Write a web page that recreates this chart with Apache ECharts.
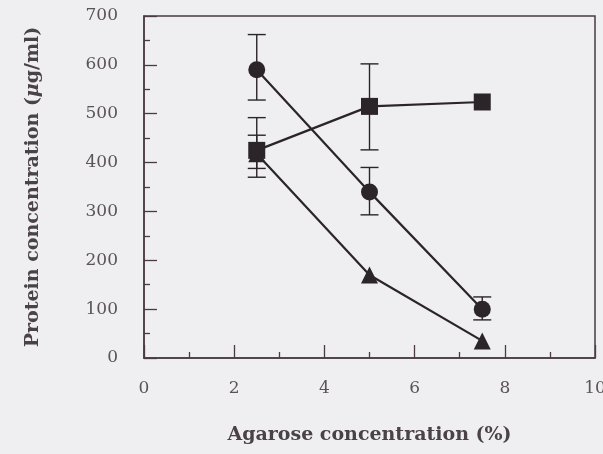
<!DOCTYPE html>
<html>
<head>
<meta charset="utf-8">
<script src="https://cdn.jsdelivr.net/npm/echarts@6/dist/echarts.min.js"></script>
<style>
html,body{margin:0;padding:0;background:#efeff1;}
#c{width:603px;height:454px;}
</style>
</head>
<body>
<div id="c"></div>
<script>
// Agarose concentration (%)
var agarose = [2.5, 5, 7.5];
// Protein concentration (ug/ml)
var circleVals = [590, 340, 100];
var circleLow = [528, 293, 78];
var circleHigh = [662, 390, 125];
var squareVals = [425, 515, 524];
var squareLow = [370, 426, null];
var squareHigh = [492, 602, null];
var triangleVals = [418, 170, 35];
var triangleLow = [388, null, null];
var triangleHigh = [456, null, null];
var xTicks = [0, 2, 4, 6, 8, 10];
var yTicks = [0, 100, 200, 300, 400, 500, 600, 700];

var ink = '#2b2428';
var axisInk = '#4a3b42';

function pts(vals) { return agarose.map(function (x, i) { return [x, vals[i]]; }); }
function errs(low, high) {
  var out = [];
  agarose.forEach(function (x, i) { if (low[i] != null) out.push([x, low[i], high[i]]); });
  return out;
}
var errData = errs(circleLow, circleHigh).concat(errs(squareLow, squareHigh)).concat(errs(triangleLow, triangleHigh));

function renderErr(params, api) {
  var lo = api.coord([api.value(0), api.value(1)]);
  var hi = api.coord([api.value(0), api.value(2)]);
  var w = 9;
  var st = { stroke: ink, lineWidth: 1.4 };
  return {
    type: 'group',
    children: [
      { type: 'line', shape: { x1: lo[0], y1: lo[1], x2: hi[0], y2: hi[1] }, style: st },
      { type: 'line', shape: { x1: lo[0] - w, y1: lo[1], x2: lo[0] + w, y2: lo[1] }, style: st },
      { type: 'line', shape: { x1: hi[0] - w, y1: hi[1], x2: hi[0] + w, y2: hi[1] }, style: st }
    ]
  };
}

var chart = echarts.init(document.getElementById('c'), null, { renderer: 'canvas' });
var labelFont = { fontFamily: 'DejaVu Serif', fontSize: 17, color: '#5a5358' };
var titleFont = { fontFamily: 'DejaVu Serif', fontSize: 19, fontWeight: 'bold', color: '#4a4247' };
chart.setOption({
  backgroundColor: '#efeff1',
  animation: false,
  grid: { left: 144, top: 16, right: 8, bottom: 96, containLabel: false, outerBoundsMode: 'none', show: true, borderColor: axisInk, borderWidth: 1.5, backgroundColor: 'transparent' },
  xAxis: {
    type: 'value', min: 0, max: 10, interval: 2,
    name: 'Agarose concentration (%)', nameLocation: 'middle', nameGap: 68,
    nameTextStyle: titleFont,
    axisLine: { show: true, lineStyle: { color: axisInk, width: 1.5 } },
    axisTick: { show: true, inside: true, length: 13, lineStyle: { color: axisInk, width: 1.3 } },
    minorTick: { show: true, splitNumber: 2, length: 6, lineStyle: { color: axisInk, width: 1.3 } },
    splitLine: { show: false },
    axisLabel: Object.assign({ margin: 22, formatter: function (v) { return xTicks.indexOf(v) >= 0 ? String(v) : ''; } }, labelFont)
  },
  yAxis: {
    type: 'value', min: 0, max: 700, interval: 100,
    name: '{b|Protein concentration (}{i|μ}{b|g/ml)}', nameLocation: 'middle', nameGap: 101,
    nameTextStyle: {
      rich: {
        b: titleFont,
        i: Object.assign({}, titleFont, { fontStyle: 'italic' })
      }
    },
    axisLine: { show: true, lineStyle: { color: axisInk, width: 1.5 } },
    axisTick: { show: true, inside: true, length: 13, lineStyle: { color: axisInk, width: 1.3 } },
    minorTick: { show: true, splitNumber: 2, length: 6, lineStyle: { color: axisInk, width: 1.3 } },
    splitLine: { show: false },
    axisLabel: Object.assign({ margin: 26, formatter: function (v) { return yTicks.indexOf(v) >= 0 ? String(v) : ''; } }, labelFont)
  },
  series: [
    { type: 'custom', renderItem: renderErr, data: errData, z: 1, encode: { x: 0, y: [1, 2] } },
    { type: 'line', data: pts(circleVals), symbol: 'circle', symbolSize: 17, lineStyle: { color: ink, width: 2.2 }, itemStyle: { color: ink }, z: 3 },
    { type: 'line', data: pts(squareVals), symbol: 'rect', symbolSize: 17, lineStyle: { color: ink, width: 2.2 }, itemStyle: { color: ink }, z: 3 },
    { type: 'line', data: pts(triangleVals), symbol: 'triangle', symbolSize: 17, lineStyle: { color: ink, width: 2.2 }, itemStyle: { color: ink }, z: 2 }
  ]
});
</script>
</body>
</html>
